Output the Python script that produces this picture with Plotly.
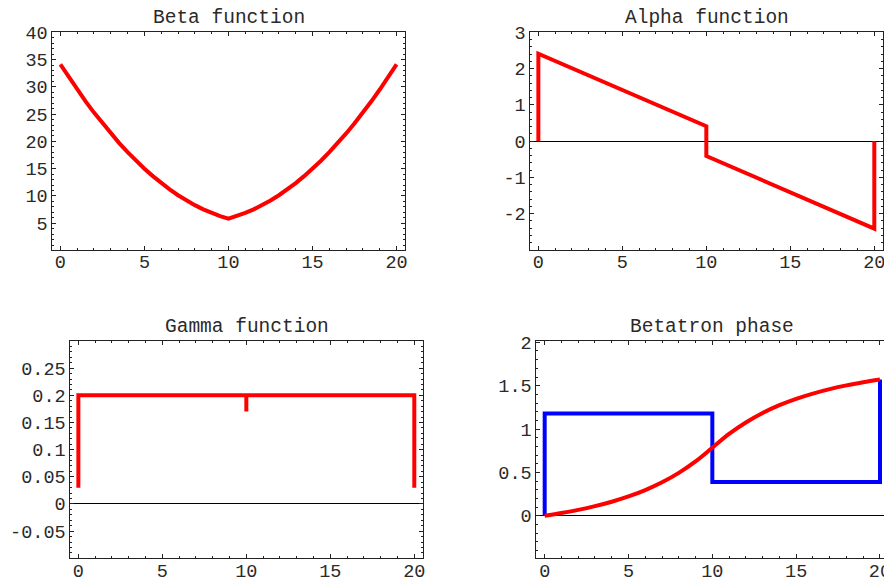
import plotly.graph_objects as go

# ---- data ----
s_beta = [0, 0.5, 1, 1.5, 2, 2.5, 3, 3.5, 4, 4.5, 5, 5.5, 6, 6.5, 7, 7.5, 8, 8.5, 9, 9.5, 10,
          10.5, 11, 11.5, 12, 12.5, 13, 13.5, 14, 14.5, 15, 15.5, 16, 16.5, 17, 17.5, 18, 18.5, 19, 19.5, 20]
beta_vals = [34.14, 31.78, 29.51, 27.35, 25.28, 23.32, 21.46, 19.69, 18.03, 16.46, 15.0,
             13.64, 12.37, 11.21, 10.14, 9.18, 8.32, 7.55, 6.89, 6.32, 5.86,
             6.32, 6.89, 7.55, 8.32, 9.18, 10.14, 11.21, 12.37, 13.64, 15.0,
             16.46, 18.03, 19.69, 21.46, 23.32, 25.28, 27.35, 29.51, 31.78, 34.14]

s_alpha = [0, 0, 10, 10, 20, 20]
alpha_vals = [0, 2.41, 0.41, -0.41, -2.41, 0]

s_gamma = [0, 0, 10, 10, 10, 20, 20]
gamma_vals = [0.03, 0.2, 0.2, 0.17, 0.2, 0.2, 0.03]

s_phase = [0, 1, 2, 3, 4, 5, 6, 7, 8, 9, 10, 11, 12, 13, 14, 15, 16, 17, 18, 19, 20]
phase_vals = [0, 0.032, 0.068, 0.111, 0.162, 0.223, 0.296, 0.386, 0.495, 0.627, 0.785,
              0.944, 1.076, 1.185, 1.275, 1.348, 1.409, 1.46, 1.503, 1.539, 1.571]

s_blue = [0, 0, 10, 10, 20, 20]
blue_vals = [0, 1.18, 1.18, 0.39, 0.39, 1.57]

titles = ["Beta function", "Alpha function", "Gamma function", "Betatron phase"]
x_ticks = [0, 5, 10, 15, 20]
x_ticklabels = ["0", "5", "10", "15", "20"]
beta_ticks = [5, 10, 15, 20, 25, 30, 35, 40]
beta_ticklabels = ["5", "10", "15", "20", "25", "30", "35", "40"]
alpha_ticks = [-2, -1, 0, 1, 2, 3]
alpha_ticklabels = ["-2", "-1", "0", "1", "2", "3"]
gamma_ticks = [-0.05, 0, 0.05, 0.1, 0.15, 0.2, 0.25]
gamma_ticklabels = ["-0.05", "0", "0.05", "0.1", "0.15", "0.2", "0.25"]
phase_ticks = [0, 0.5, 1, 1.5, 2]
phase_ticklabels = ["0", "0.5", "1", "1.5", "2"]

RED = "#ff0000"
BLUE = "#0000ff"
FONT = "Liberation Mono, Courier New, monospace"
W, H = 884, 579
TXT = "#2a2a2a"

fig = go.Figure()

fig.add_trace(go.Scatter(x=s_beta, y=beta_vals, mode="lines",
                         line=dict(color=RED, width=4), xaxis="x", yaxis="y"))
fig.add_trace(go.Scatter(x=s_alpha, y=alpha_vals, mode="lines",
                         line=dict(color=RED, width=4), xaxis="x2", yaxis="y2"))
fig.add_trace(go.Scatter(x=s_gamma, y=gamma_vals, mode="lines",
                         line=dict(color=RED, width=4), xaxis="x3", yaxis="y3"))
fig.add_trace(go.Scatter(x=s_blue, y=blue_vals, mode="lines",
                         line=dict(color=BLUE, width=4), xaxis="x4", yaxis="y4"))
fig.add_trace(go.Scatter(x=s_phase, y=phase_vals, mode="lines",
                         line=dict(color=RED, width=4, shape="spline"), xaxis="x4", yaxis="y4"))

def px_x(a, b):
    return [a / W, min(1.0, b / W)]

def px_y(top, bottom):
    return [1 - bottom / H, 1 - top / H]

panels = [
    dict(xd=px_x(52.3, 405), yd=px_y(32.3, 250), xr=[-0.48, 20.5], yr=[0.1, 40],
         yt=beta_ticks, ytl=beta_ticklabels, ydt=1, zero=False, ymirror="allticks"),
    dict(xd=px_x(530.3, 882.7), yd=px_y(32.3, 250), xr=[-0.48, 20.5], yr=[-3.0, 3.0],
         yt=alpha_ticks, ytl=alpha_ticklabels, ydt=0.2, zero=True, ymirror="allticks"),
    dict(xd=px_x(70.3, 422.7), yd=px_y(341, 558.3), xr=[-0.48, 20.5], yr=[-0.1, 0.3],
         yt=gamma_ticks, ytl=gamma_ticklabels, ydt=0.01, zero=True, ymirror="allticks"),
    dict(xd=px_x(536.3, 884), yd=px_y(341, 558.3), xr=[-0.5, 20.24], yr=[-0.49, 2.015],
         yt=phase_ticks, ytl=phase_ticklabels, ydt=0.1, zero=True, ymirror=False),
]

layout = dict(width=W, height=H, margin=dict(l=0, r=0, t=0, b=0, autoexpand=False),
              paper_bgcolor="white", plot_bgcolor="white", showlegend=False,
              template="none",
              font=dict(family=FONT, size=18.5, color=TXT))
annotations = []
for i, p in enumerate(panels):
    sx = "" if i == 0 else str(i + 1)
    layout["xaxis" + sx] = dict(
        domain=p["xd"], range=p["xr"], anchor="y" + sx, automargin=False,
        tickvals=x_ticks, ticktext=x_ticklabels, ticklabeloverflow="allow",
        ticklabelstandoff=-5,
        ticks="inside", ticklen=4, tickcolor="#222", showgrid=False, zeroline=False,
        showline=True, linecolor="#222", linewidth=1, mirror="allticks",
        minor=dict(dtick=1, tick0=0, ticks="inside", ticklen=2, tickcolor="#222", showgrid=False),
        tickfont=dict(family=FONT, size=18.5, color=TXT),
    )
    layout["yaxis" + sx] = dict(
        domain=p["yd"], range=p["yr"], anchor="x" + sx, automargin=False,
        tickvals=p["yt"], ticktext=p["ytl"], ticklabeloverflow="allow",
        ticks="inside", ticklen=4, tickcolor="#222", showgrid=False,
        zeroline=p["zero"], zerolinecolor="black", zerolinewidth=1,
        showline=True, linecolor="#222", linewidth=1, mirror=p["ymirror"],
        minor=dict(dtick=p["ydt"], tick0=0, ticks="inside", ticklen=2, tickcolor="#222", showgrid=False),
        tickfont=dict(family=FONT, size=18.5, color=TXT),
    )
    cx = (p["xd"][0] + p["xd"][1]) / 2
    if i == 3:
        cx = 711.7 / W
    annotations.append(dict(text=titles[i], x=cx, y=p["yd"][1], xref="paper", yref="paper",
                            xanchor="center", yanchor="middle", yshift=14, showarrow=False,
                            font=dict(family=FONT, size=19.5, color=TXT)))
layout["annotations"] = annotations
fig.update_layout(**layout)

fig.write_html(
    "out.html",
    config={"displayModeBar": False},
    post_script="document.body.style.margin='0';document.body.style.overflow='hidden';",
)
